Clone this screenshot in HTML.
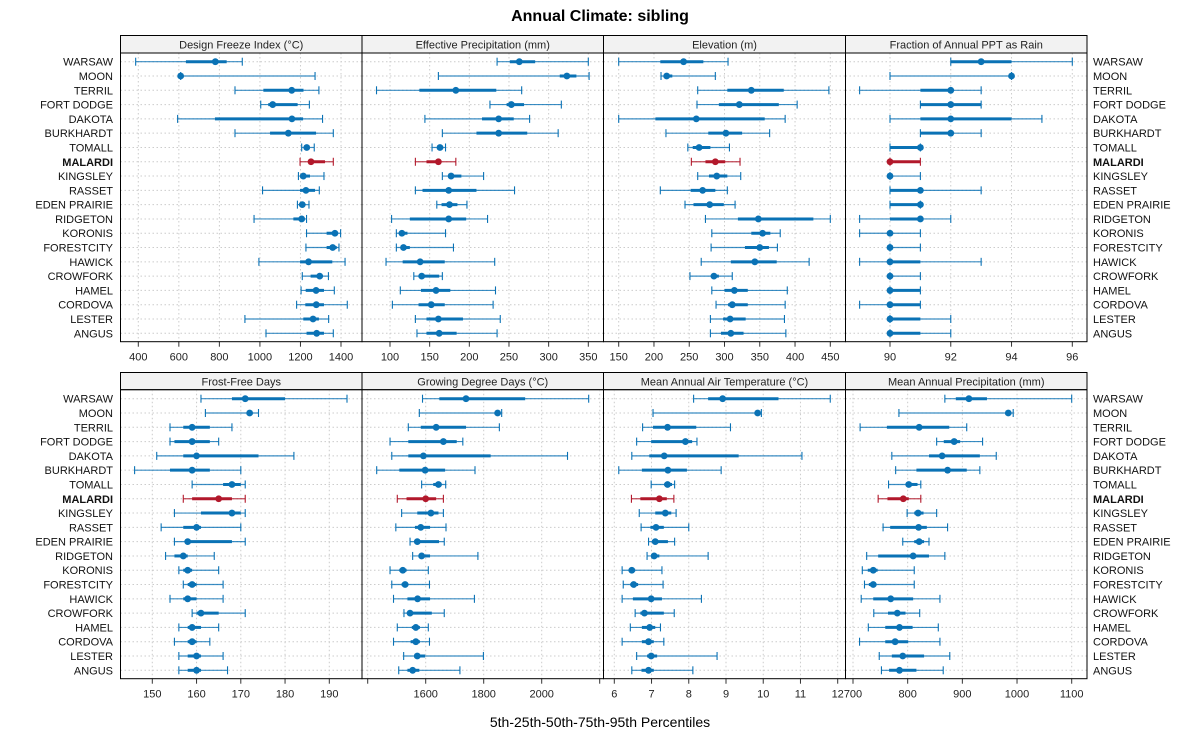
<!DOCTYPE html>
<html><head><meta charset="utf-8"><style>
body{margin:0;background:#fff;}
svg text{font-family:"Liberation Sans",sans-serif;}
</style></head><body>
<svg id="chart" width="1200" height="750" xmlns="http://www.w3.org/2000/svg">
<rect width="1200" height="750" fill="#fff"/>
<text x="600" y="21" text-anchor="middle" font-size="16" font-weight="bold">Annual Climate: sibling</text>
<text x="600" y="727" text-anchor="middle" font-size="14">5th-25th-50th-75th-95th Percentiles</text>
</svg>
<script>
const stations = ["WARSAW","MOON","TERRIL","FORT DODGE","DAKOTA","BURKHARDT","TOMALL","MALARDI","KINGSLEY","RASSET","EDEN PRAIRIE","RIDGETON","KORONIS","FORESTCITY","HAWICK","CROWFORK","HAMEL","CORDOVA","LESTER","ANGUS"];
const highlight = "MALARDI";
const panelTitles = ["Design Freeze Index (°C)","Effective Precipitation (mm)","Elevation (m)","Fraction of Annual PPT as Rain","Frost-Free Days","Growing Degree Days (°C)","Mean Annual Air Temperature (°C)","Mean Annual Precipitation (mm)"];
const dfiValues = [[387,635,780,836,913],[609,609,609,620,1272],[877,1017,1157,1215,1291],[1004,1041,1063,1186,1244],[594,778,1158,1213,1309],[877,1050,1140,1277,1362],[1206,1219,1231,1239,1268],[1198,1239,1252,1321,1362],[1190,1198,1214,1247,1316],[1013,1198,1227,1272,1293],[1185,1198,1209,1222,1242],[971,1165,1206,1214,1230],[1230,1329,1370,1379,1398],[1227,1329,1359,1379,1390],[995,1198,1240,1357,1420],[1209,1250,1295,1308,1338],[1203,1226,1277,1316,1367],[1181,1224,1278,1316,1431],[926,1214,1262,1291,1339],[1030,1230,1280,1316,1362]];
const effpValues = [[235,251,263,283,350],[161,314,323,335,351],[83,137,183,234,266],[226,247,253,269,316],[144,216,237,256,276],[166,209,237,273,312],[153,160,163,167,170],[132,146,161,163,183],[166,175,177,190,218],[132,141,174,209,257],[159,165,175,185,197],[102,125,174,196,223],[108,112,115,122,170],[108,114,117,125,180],[95,116,138,169,232],[130,136,140,162,166],[113,139,158,176,233],[103,136,152,169,230],[132,146,161,192,239],[134,146,162,184,235]];
const elevValues = [[150,209,242,270,305],[210,214,218,226,287],[262,304,338,384,448],[261,292,321,377,403],[150,202,260,357,386],[217,277,302,325,364],[248,255,264,280,307],[253,273,287,301,322],[262,278,289,304,323],[209,252,269,287,304],[244,256,279,299,315],[273,319,348,426,450],[282,338,354,365,379],[281,329,350,363,375],[267,309,343,374,420],[251,281,285,292,311],[282,300,314,333,389],[288,305,311,333,386],[280,298,308,330,385],[280,295,309,327,387]];
const rainValues = [[92,92,93,94,96],[90,94,94,94,94],[89,91,92,92,93],[91,91,92,93,93],[90,91,92,94,95],[91,91,92,92,93],[90,90,91,91,91],[90,90,90,91,91],[90,90,90,90,91],[90,90,91,91,93],[90,90,91,91,91],[89,90,91,91,92],[89,90,90,90,91],[90,90,90,90,91],[89,90,90,91,93],[90,90,90,90,91],[90,90,90,91,91],[89,90,90,91,91],[90,90,90,91,92],[90,90,90,91,92]];
const ffdValues = [[161,168,171,180,194],[162,171.7,172,172.3,174],[154,157,159,163,168],[154,155,159,163,165],[151,157,160,174,182],[146,154,159,163,170],[159,166,168,170,171],[157,159,165,168,171],[155,161,168,170,171],[152,157,160,161,170],[155,158,158,168,171],[153,155,157,158,164],[156,157,158,159,165],[157,158,159,160,166],[154,157,158,160,166],[159,160,161,165,171],[156,158,159,161,165],[155,158,159,160,163],[156,158,160,161,166],[156,158,160,161,167]];
const gddValues = [[1589,1647,1739,1943,2162],[1578,1845,1848,1854,1862],[1540,1583,1636,1739,1854],[1477,1540,1661,1707,1728],[1483,1540,1592,1824,2089],[1431,1509,1598,1667,1770],[1586,1626,1644,1655,1669],[1502,1534,1600,1636,1661],[1517,1571,1618,1644,1661],[1497,1563,1583,1615,1670],[1546,1563,1571,1646,1664],[1555,1578,1586,1615,1780],[1477,1509,1521,1534,1609],[1483,1517,1529,1540,1613],[1489,1537,1572,1615,1768],[1525,1537,1546,1621,1664],[1502,1552,1566,1580,1609],[1489,1548,1566,1580,1613],[1524,1560,1571,1598,1799],[1507,1537,1555,1578,1718]];
const maatValues = [[8.13,8.52,8.91,10.41,11.80],[7.04,9.79,9.85,9.92,9.95],[6.76,7.04,7.43,8.20,9.12],[6.60,6.99,7.91,8.09,8.22],[6.47,6.94,7.34,9.34,11.04],[6.12,6.74,7.44,7.95,8.87],[6.99,7.34,7.43,7.55,7.62],[6.46,6.70,7.21,7.41,7.60],[6.67,7.10,7.37,7.53,7.66],[6.72,6.97,7.12,7.33,8.00],[6.92,7.01,7.10,7.44,7.62],[6.88,6.99,7.07,7.21,8.52],[6.21,6.39,6.47,6.56,7.28],[6.24,6.43,6.52,6.64,7.31],[6.21,6.50,6.99,7.28,8.34],[6.56,6.70,6.81,7.33,7.61],[6.43,6.74,6.95,7.10,7.24],[6.21,6.74,6.92,7.06,7.33],[6.60,6.88,6.99,7.15,8.76],[6.47,6.73,6.92,7.06,8.11]];
const mapValues = [[868,888,912,945,1100],[784,982,984,987,993],[713,762,821,876,908],[853,866,885,896,937],[771,839,863,932,962],[778,816,873,908,932],[765,796,802,818,824],[746,763,792,802,824],[799,812,819,829,853],[755,768,820,835,873],[791,812,821,830,839],[725,746,810,839,868],[717,727,737,745,812],[721,729,737,743,812],[715,737,769,810,859],[738,764,781,796,822],[728,759,785,809,856],[712,759,777,801,859],[748,771,791,830,877],[752,766,785,816,865]];
const dfiTicks = [400,600,800,1000,1200,1400];
const effpTicks = [100,150,200,250,300,350];
const elevTicks = [150,200,250,300,350,400,450];
const rainTicks = [90,92,94,96];
const ffdTicks = [150,160,170,180,190];
const gddTicks = [1400,1600,1800,2000,2200];
const gddLabelled = [1600,1800,2000];
const maatTicks = [6,7,8,9,10,11,12];
const mapTicks = [700,800,900,1000,1100];

const NS="http://www.w3.org/2000/svg";
const svg=document.getElementById('chart');
function mk(tag,attrs,parent){const e=document.createElementNS(NS,tag);for(const k in attrs)e.setAttribute(k,attrs[k]);(parent||svg).appendChild(e);return e;}

const rowsGeom=[{st:35.5,pt:53,pb:341.7,y0:61.7,y1:333.3},{st:372.5,pt:389.7,pb:678.7,y0:398.7,y1:670.3}];
const colsX=[[120.5,362],[362,603.5],[603.5,845.5],[845.5,1087]];
const panels=[
 {vals:dfiValues,ticks:dfiTicks,labels:dfiTicks,ref:[400,138.3,1400,341]},
 {vals:effpValues,ticks:effpTicks,labels:effpTicks,ref:[100,390,350,588.3]},
 {vals:elevValues,ticks:elevTicks,labels:elevTicks,ref:[150,618.7,450,830.3]},
 {vals:rainValues,ticks:rainTicks,labels:rainTicks,ref:[90,890,96,1072.3]},
 {vals:ffdValues,ticks:ffdTicks,labels:ffdTicks,ref:[150,152.3,190,329.3]},
 {vals:gddValues,ticks:gddTicks,labels:gddLabelled,ref:[1600,425.7,2000,541.7]},
 {vals:maatValues,ticks:maatTicks,labels:maatTicks,ref:[6,614.3,12,837.7]},
 {vals:mapValues,ticks:mapTicks,labels:mapTicks,ref:[700,853,1100,1071.7]}
];
const BLUE="#0a72b5", RED="#b2182b";
panels.forEach((p,i)=>{
  const g=rowsGeom[Math.floor(i/4)], [L,R]=colsX[i%4];
  const xs=v=>p.ref[1]+(v-p.ref[0])*(p.ref[3]-p.ref[1])/(p.ref[2]-p.ref[0]);
  const ys=j=>g.y0+j*(g.y1-g.y0)/(stations.length-1);
  const pg=mk('g',{});
  
  
  const st=mk('rect',{x:L,y:g.st,width:R-L,height:g.pt-g.st,fill:'#f2f2f2',stroke:'#000','stroke-width':1},pg);
  
  
  const tt=mk('text',{x:(L+R)/2,y:g.st+13,'text-anchor':'middle','font-size':11,fill:'#222'},pg);
  tt.textContent=panelTitles[i];
  
  
  p.ticks.forEach(t=>{const x=xs(t); if(x>L+1&&x<R-1){const gl=mk('line',{x1:x,x2:x,y1:g.pt,y2:g.pb,stroke:'#ccc','stroke-dasharray':'1.5,2.5','stroke-width':1},pg);
    
    }});
  stations.forEach((s,j)=>{const gl=mk('line',{x1:L,x2:R,y1:ys(j),y2:ys(j),stroke:'#ccc','stroke-dasharray':'1.5,2.5','stroke-width':1},pg);
    
    });
  p.ticks.forEach(t=>{const x=xs(t);
    const tk=mk('line',{x1:x,x2:x,y1:g.pb,y2:g.pb+5,stroke:'#333','stroke-width':1},pg);
    
    
    if(p.labels.indexOf(t)>=0){const tl=mk('text',{x:x,y:g.pb+19,'text-anchor':'middle','font-size':11,fill:'#222'},pg);tl.textContent=t;
      
      }
  });
  p.vals.forEach((v,j)=>{
    const c=stations[j]===highlight?RED:BLUE, y=ys(j);
    const mg=mk('g',{},pg);
    
    
    mk('line',{x1:xs(v[0]),x2:xs(v[4]),y1:y,y2:y,stroke:c,'stroke-width':1.2,'stroke-opacity':0.8},mg);
    mk('line',{x1:xs(v[0]),x2:xs(v[0]),y1:y-4,y2:y+4,stroke:c,'stroke-width':1.1},mg);
    mk('line',{x1:xs(v[4]),x2:xs(v[4]),y1:y-4,y2:y+4,stroke:c,'stroke-width':1.1},mg);
    mk('line',{x1:xs(v[1]),x2:xs(v[3]),y1:y,y2:y,stroke:c,'stroke-width':3},mg);
    mk('circle',{cx:xs(v[2]),cy:y,r:3.4,fill:c},mg);
  });
  const bd=mk('rect',{x:L,y:g.pt,width:R-L,height:g.pb-g.pt,fill:'none',stroke:'#000','stroke-width':1},pg);
  
  
  if(i%4===0||i%4===3){
    stations.forEach((s,j)=>{const left=i%4===0;
      const t=mk('text',{x:left?113:1093,y:ys(j)+4,'text-anchor':left?'end':'start','font-size':11,'font-weight':s===highlight?'bold':'normal',fill:'#111'},pg);
      t.textContent=s;
      
      });
  }
});
</script>
</body></html>
